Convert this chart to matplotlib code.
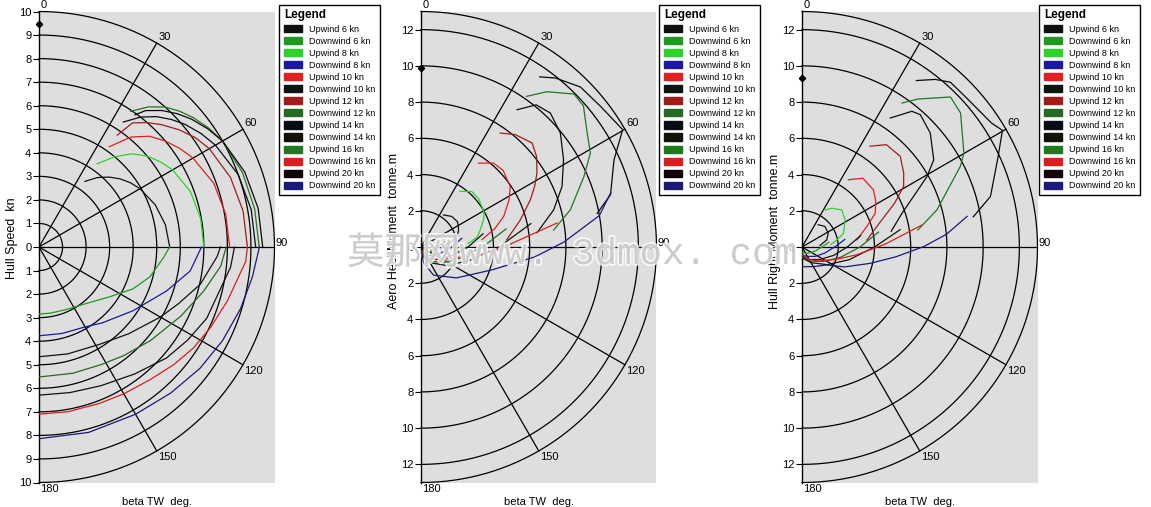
import matplotlib
matplotlib.use("Agg")
import matplotlib.pyplot as plt
import matplotlib.patheffects as pe
from matplotlib.patches import Patch
import numpy as np

plt.rcParams['font.family'] = ['Liberation Sans', 'DejaVu Sans']

SERIES = ["Upwind 6 kn", "Downwind 6 kn", "Upwind 8 kn", "Downwind 8 kn",
          "Upwind 10 kn", "Downwind 10 kn", "Upwind 12 kn", "Downwind 12 kn",
          "Upwind 14 kn", "Downwind 14 kn", "Upwind 16 kn", "Downwind 16 kn",
          "Upwind 20 kn", "Downwind 20 kn"]
COLORS = ["#101010", "#1f9a1f", "#2ad42a", "#1a1aa0", "#e02020", "#0c1410",
          "#a01c1c", "#236b23", "#080c14", "#121208", "#1e781e", "#d81e1e",
          "#10040a", "#1a1a78"]

# ---- Hull speed (kn) vs beta TW (deg), one list per series in SERIES order
speed_theta = [
    [35, 40, 45, 50, 55, 60, 70, 80, 90],
    [90, 95, 105, 114, 125, 140, 156, 170, 180],
    [35, 40, 45, 50, 55, 60, 70, 80, 90],
    [90, 99, 109, 124, 140, 151, 165, 180],
    [35, 40, 45, 50, 55, 60, 70, 80, 90],
    [90, 93, 103, 112, 120, 134, 148, 165, 180],
    [35, 37, 41, 45, 50, 55, 60, 70, 80, 90],
    [90, 96, 105, 116, 130, 142, 152, 165, 180],
    [34, 38, 42, 46, 50, 55, 60, 70, 80, 90],
    [90, 96, 113, 122, 131, 143, 156, 168, 180],
    [34, 38, 42, 46, 50, 55, 60, 70, 80, 90],
    [90, 94, 106, 115, 123, 131, 140, 150, 159, 170, 180],
    [36, 38, 42, 46, 50, 55, 60, 70, 80, 90],
    [90, 98, 107, 117, 127, 138, 150, 165, 180],
]
speed_r = [
    [3.4, 3.85, 4.2, 4.5, 4.75, 4.95, 5.25, 5.45, 5.55],
    [5.55, 5.3, 4.88, 4.37, 3.68, 3.13, 2.9, 2.85, 2.85],
    [4.32, 5.0, 5.6, 6.0, 6.3, 6.55, 6.85, 6.97, 7.0],
    [6.9, 6.5, 5.73, 4.83, 4.2, 3.9, 3.8, 3.77],
    [5.2, 6.1, 6.65, 7.0, 7.3, 7.55, 7.9, 8.05, 8.1],
    [7.7, 7.58, 7.03, 6.4, 5.95, 5.3, 4.87, 4.7, 4.66],
    [5.8, 6.6, 7.0, 7.35, 7.75, 8.1, 8.35, 8.65, 8.8, 8.85],
    [7.95, 7.76, 7.24, 6.7, 6.18, 5.85, 5.65, 5.55, 5.52],
    [6.4, 7.0, 7.45, 7.8, 8.1, 8.4, 8.65, 9.0, 9.15, 9.2],
    [8.3, 8.18, 7.74, 7.45, 7.18, 6.75, 6.45, 6.32, 6.29],
    [6.95, 7.55, 8.0, 8.3, 8.55, 8.8, 9.0, 9.2, 9.3, 9.35],
    [8.85, 8.8, 8.32, 8.05, 7.84, 7.6, 7.35, 7.2, 7.12, 7.1, 7.1],
    [6.94, 7.35, 7.8, 8.15, 8.45, 8.75, 9.0, 9.3, 9.45, 9.5],
    [9.36, 9.15, 8.95, 8.75, 8.56, 8.35, 8.2, 8.15, 8.14],
]

# ---- Aero heel moment (tonne.m)
aero_theta = [
    [35, 45, 55, 61, 67, 74, 80, 86],
    [78, 90, 105, 125, 150, 180],
    [35, 42.5, 50, 56.4, 61, 66.6, 74, 80, 86],
    [78, 90, 105, 125, 150, 180],
    [34.4, 40.8, 47, 55.9, 62, 69.8, 76, 83],
    [78, 90, 105, 125, 150, 180],
    [34.8, 40, 46.9, 52, 57.5, 62, 66.7, 74.8, 85],
    [78, 90, 105, 125, 150, 180],
    [35, 39, 44, 50.7, 58.5, 66.8, 74.4, 83],
    [78, 90, 105, 125, 150, 180],
    [35, 39, 45, 49, 55.6, 61, 66.6, 76, 82.7],
    [80, 93.7, 109, 130, 150, 180],
    [34.9, 38.5, 44.9, 51.9, 59.8, 65.7, 74.6, 79.2],
    [74, 80, 88, 95, 108, 131, 156, 170, 180],
]
aero_r = [
    [2.16, 2.39, 2.45, 2.36, 2.25, 2.05, 1.7, 1.3],
    [1.3, 0.95, 0.7, 0.5, 0.35, 0.2],
    [3.75, 4.15, 4.15, 4.03, 3.98, 3.76, 3.4, 3.15, 2.6],
    [2.3, 1.7, 1.2, 0.85, 0.55, 0.3],
    [5.61, 6.12, 6.2, 5.95, 5.5, 4.86, 4.2, 3.4],
    [3.5, 2.6, 1.8, 1.2, 0.75, 0.35],
    [7.66, 8.1, 8.4, 8.1, 7.59, 7.1, 6.57, 5.68, 4.76],
    [4.8, 3.4, 2.3, 1.5, 0.9, 0.4],
    [9.25, 10.1, 10.28, 9.94, 9.23, 8.47, 7.6, 6.45],
    [6.2, 4.3, 2.8, 1.8, 1.0, 0.45],
    [10.15, 11.03, 11.94, 11.88, 11.12, 10.69, 9.8, 8.5, 7.38],
    [7.63, 4.01, 1.9, 1.1, 0.62, 0.2],
    [11.45, 11.92, 12.47, 12.59, 12.88, 11.69, 10.85, 9.9],
    [10.9, 10.0, 7.9, 6.3, 4.1, 2.6, 1.7, 0.9, 0.2],
]

# ---- Hull righting moment (tonne.m)
right_theta = [
    [36, 48, 62, 74, 85],
    [80, 90, 105, 125, 150, 180],
    [32, 37.5, 47, 58, 72, 78.5, 85],
    [80, 90, 105, 125, 150, 180],
    [34.6, 41.5, 51.4, 58, 65.3, 72.5, 82.7],
    [79, 90, 105, 125, 150, 180],
    [34, 39.5, 47.3, 54, 59.2, 64.7, 74.7, 84],
    [79, 90, 105, 125, 150, 180],
    [34.4, 39, 41.8, 48.4, 56.5, 60.6, 65.6, 71.4, 80],
    [80, 90, 105, 125, 150, 180],
    [34.8, 38.1, 44.7, 49.8, 59.9, 63, 74.6, 81.6],
    [79.6, 88, 98, 110, 130, 150, 180],
    [34.5, 38.5, 42, 47.2, 56.8, 59.8, 65.2, 75, 80],
    [79.5, 85, 89.8, 96, 103.5, 115, 126, 150, 176],
]
right_r = [
    [1.52, 1.7, 1.64, 1.42, 1.0],
    [1.5, 1.1, 0.8, 0.55, 0.4, 0.3],
    [2.41, 2.7, 3.0, 2.81, 2.41, 1.96, 1.6],
    [2.4, 1.8, 1.3, 0.9, 0.6, 0.45],
    [4.51, 5.07, 5.05, 4.8, 4.45, 3.75, 3.05],
    [3.3, 2.5, 1.8, 1.2, 0.8, 0.5],
    [6.71, 7.32, 7.38, 6.94, 6.53, 5.65, 4.28, 3.6],
    [4.3, 3.2, 2.2, 1.4, 0.9, 0.55],
    [8.63, 9.64, 9.8, 9.47, 8.72, 7.92, 6.76, 5.82, 5.0],
    [5.5, 4.0, 2.7, 1.7, 1.0, 0.6],
    [9.68, 10.38, 11.65, 11.46, 10.33, 9.81, 7.73, 6.47],
    [6.74, 4.6, 3.06, 2.0, 1.2, 0.8, 0.4],
    [11.15, 11.82, 12.24, 12.25, 12.5, 12.8, 11.93, 10.77, 9.6],
    [9.27, 8.0, 6.72, 5.2, 3.87, 2.6, 1.69, 1.25, 1.09],
]

# single point marker drawn on the 0 deg axis of each panel
marker_r = [9.45, 9.9, 9.35]

W, H = 1151, 507
fig = plt.figure(figsize=(W / 100, H / 100), dpi=100)


def panel(left, rmax, rings, ticks, ylabel, thetas, values, mark, label_y, leg_x):
    ax = fig.add_axes([left / W, (H - 482.5) / H, 235.5 / W, 471 / H])
    ax.set_facecolor("#dedede")
    ax.set_xlim(0, rmax)
    ax.set_ylim(-rmax, rmax)
    for s in ("top", "right", "bottom"):
        ax.spines[s].set_visible(False)
    ax.spines["left"].set_linewidth(1.0)

    # polar grid: rings and spokes
    t = np.radians(np.linspace(0, 180, 361))
    for r in list(rings) + [rmax]:
        ax.plot(r * np.sin(t), r * np.cos(t), color="black", lw=0.9, clip_on=False, zorder=2)
    for a in range(0, 181, 30):
        ar = np.radians(a)
        x, y = rmax * np.sin(ar), rmax * np.cos(ar)
        if 0 < a < 180:
            ax.plot([0, x], [0, y], color="black", lw=0.9, zorder=2)
        if a < 90:
            va, dy = "bottom", 1
        elif a == 90:
            va, dy = "center", 3
        else:
            va, dy = "top", -1
        ax.annotate(str(a), (x, y), xytext=(1, dy), textcoords="offset points",
                    ha="left", va=va, fontsize=8, annotation_clip=False)

    for th, rv, c in zip(thetas, values, COLORS):
        tr = np.radians(th)
        rv = np.asarray(rv)
        ax.plot(rv * np.sin(tr), rv * np.cos(tr), color=c, lw=0.9, zorder=3)

    ax.plot([0], [mark], marker="D", ms=3.2, color="black", clip_on=False, zorder=4)

    ax.set_yticks(ticks)
    ax.set_yticklabels([f"{abs(v):g}" for v in ticks])
    ax.set_xticks([])
    ax.tick_params(axis="y", direction="out", length=4, width=0.8, pad=1.5, labelsize=8)
    ax.set_ylabel(ylabel, fontsize=9)
    ax.yaxis.set_label_coords(-0.09, label_y)
    ax.set_xlabel("beta TW  deg.", fontsize=8, va="top")
    ax.xaxis.set_label_coords(0.5, -0.03)

    handles = [Patch(facecolor=c, edgecolor=c) for c in COLORS]
    leg = ax.legend(handles, SERIES, loc="upper left", bbox_to_anchor=(leg_x / W, 1 - 4.5 / H),
                    bbox_transform=fig.transFigure, borderaxespad=0, title="Legend",
                    title_fontproperties={"weight": "bold", "size": 8.5}, fontsize=6.5,
                    frameon=True, fancybox=False, edgecolor="black", framealpha=1,
                    borderpad=0.55, handlelength=1.95, handleheight=0.85, handletextpad=0.8,
                    labelspacing=0.34, alignment="left")
    leg.get_frame().set_linewidth(1.0)
    return ax


panel(39, 10, range(1, 10), list(range(-10, 11)), "Hull Speed  kn",
      speed_theta, speed_r, marker_r[0], 0.519, 279)
panel(421, 13, range(2, 13, 2), list(range(-12, 13, 2)), "Aero Heel Moment  tonne.m",
      aero_theta, aero_r, marker_r[1], 0.534, 659)
panel(802, 13, range(2, 13, 2), list(range(-12, 13, 2)), "Hull Right Moment  tonne.m",
      right_theta, right_r, marker_r[2], 0.534, 1039)

fig.text(347 / W, 1 - 254 / H, "莫那网www. 3dmox. com", fontsize=27,
         family=["Liberation Mono", "Noto Sans CJK SC"], color="#b4b4b4", alpha=0.6,
         ha="left", va="center", zorder=10,
         path_effects=[pe.withStroke(linewidth=2.5, foreground="white", alpha=0.8)])

fig.savefig("out.png", dpi=100)
